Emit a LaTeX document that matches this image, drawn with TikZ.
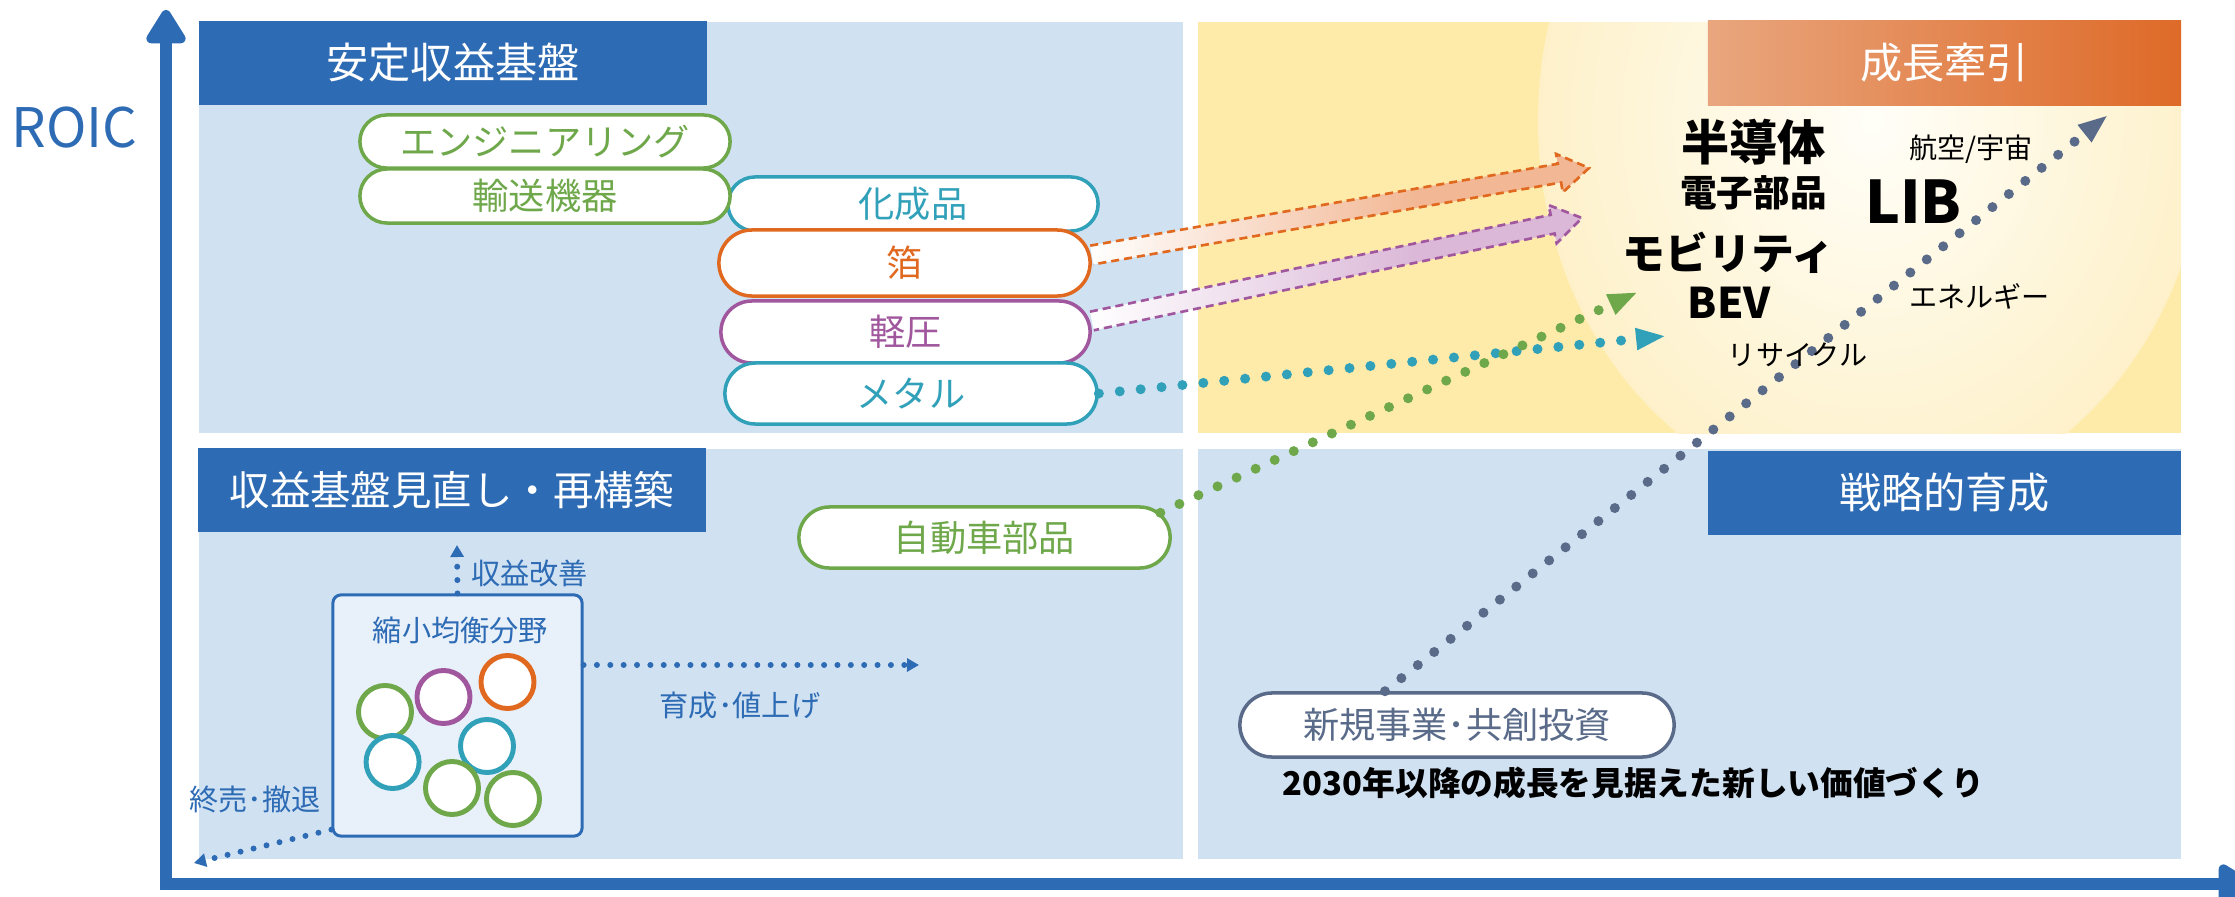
\documentclass[tikz,border=0pt]{standalone}
\usepackage{fontspec}
\setmainfont{Noto Sans CJK JP}
\usetikzlibrary{arrows.meta,calc,shapes.misc}

\definecolor{axblue}{HTML}{2D6BB4}
\definecolor{panelblue}{HTML}{D0E1F2}
\definecolor{panelyel}{HTML}{FEEBAA}
\definecolor{pgreen}{HTML}{6FA84A}
\definecolor{pteal}{HTML}{31A0B9}
\definecolor{porange}{HTML}{E0691F}
\definecolor{ppurple}{HTML}{A0579E}
\definecolor{pslate}{HTML}{5A6B8A}
\definecolor{peach}{HTML}{F2B794}
\definecolor{lilac}{HTML}{DBB8D8}
\definecolor{boxfill}{HTML}{E8F0FA}
\definecolor{otl}{HTML}{E9A67E}
\definecolor{otr}{HTML}{DE6A28}
\definecolor{glowin}{HTML}{FFFEF8}
\definecolor{glowout}{HTML}{FEF1CA}

\pgfdeclarehorizontalshading{oarrowshade}{100bp}{color(0bp)=(white); color(25bp)=(white); color(58bp)=(peach); color(100bp)=(peach)}
\pgfdeclarehorizontalshading{parrowshade}{100bp}{color(0bp)=(white); color(25bp)=(white); color(58bp)=(lilac); color(100bp)=(lilac)}

\newcommand{\blockarr}[3]{%
  \coordinate (#1B) at ($(#2)!0.3cm!(#1)$);
  \shade[shading=#3] ($(#1)!0.095cm!90:(#2)$) -- ($(#1B)!0.095cm!90:(#2)$) -- ($(#1B)!0.195cm!90:(#2)$) -- (#2) -- ($(#1B)!0.195cm!-90:(#2)$) -- ($(#1B)!0.095cm!-90:(#2)$) -- ($(#1)!0.095cm!-90:(#2)$) -- cycle;
}
\newcommand{\blockedge}[3]{%
  \draw[#3, dashedge, line join=miter] ($(#1)!0.095cm!90:(#2)$) -- ($(#1B)!0.095cm!90:(#2)$) -- ($(#1B)!0.195cm!90:(#2)$) -- (#2) -- ($(#1B)!0.195cm!-90:(#2)$) -- ($(#1B)!0.095cm!-90:(#2)$) -- ($(#1)!0.095cm!-90:(#2)$);
}

\tikzset{
  titlebox/.style={fill=axblue, text=white, font=\fontsize{12pt}{14pt}\selectfont, minimum width=5.08cm, minimum height=0.84cm, inner sep=0pt},
  pill/.style={rounded rectangle, draw, fill=white, line width=1pt, inner sep=0pt, font=\fontsize{10.3pt}{12pt}\selectfont},
  dotline/.style={line width=2.85pt, line cap=round, dash pattern=on 0pt off 5.97pt},
  smalldots/.style={axblue, line width=1.7pt, line cap=round, dash pattern=on 0pt off 3.8pt},
  dashedge/.style={line width=0.75pt, dash pattern=on 2.3pt off 1.4pt},
  ring/.style={circle, draw, fill=white, line width=1.4pt, minimum size=0.53cm, inner sep=0pt},
  bluelab/.style={inner sep=0pt, text=axblue, font=\fontsize{8.3pt}{10pt}\selectfont},
  blacklab/.style={inner sep=0pt, text=black},
  axisline/.style={axblue, line width=3.4pt, -{Triangle[length=0.38cm,width=0.44cm,round]}},
  bigtip/.style={-{Triangle[length=0.3cm,width=0.2cm]}},
  smalltip/.style={-{Triangle[length=0.12cm,width=0.13cm]}}
}

\begin{document}
\begin{tikzpicture}[x=0.01cm,y=-0.01cm]
\useasboundingbox (0,0) rectangle (2235,897);

% quadrant panels
\fill[panelblue] (199,22) rectangle (1183,433);
\fill[panelyel] (1198,22) rectangle (2181,433);
\fill[panelblue] (199,449) rectangle (1183,859);
\fill[panelblue] (1198,449) rectangle (2181,859);

% glow in growth quadrant
\begin{scope}
  \clip (1198,22) rectangle (2181,433);
  \shade[inner color=glowin, outer color=glowout] (1872,121) ellipse [x radius=334, y radius=384];
\end{scope}

% quadrant titles
\node[titlebox] (tStable) at (453,63) {安定収益基盤};
\node[titlebox, minimum width=4.73cm, left color=otl, right color=otr] (tGrowth) at (1944.5,63) {成長牽引};
\node[titlebox, font=\fontsize{11.5pt}{14pt}\selectfont] (tRebuild) at (452,490) {収益基盤見直し・再構築};
\node[titlebox, minimum width=4.73cm] (tStrat) at (1944.5,493) {戦略的育成};

% axes
\coordinate (yaxBottom) at (166,890);
\coordinate (yaxTop) at (166,10);
\coordinate (xaxLeft) at (160,884);
\coordinate (xaxRight) at (2252,884);
\draw[axisline] (yaxBottom) -- (yaxTop);
\draw[axisline] (xaxLeft) -- (xaxRight);
\node[inner sep=0pt, text=axblue, font=\fontsize{15.5pt}{18pt}\selectfont] (roic) at (74.5,127.5) {ROIC};

% business pills
\node[pill, draw=pteal, text=pteal, minimum width=3.70cm, minimum height=0.54cm] (kasei) at (913,204) {化成品};
\node[pill, draw=porange, text=porange, minimum width=3.71cm, minimum height=0.66cm] (haku) at (904.5,263) {箔};
\node[pill, draw=ppurple, text=ppurple, minimum width=3.69cm, minimum height=0.62cm] (keiatsu) at (905.5,332) {軽圧};
\node[pill, draw=pteal, text=pteal, minimum width=3.72cm, minimum height=0.61cm] (metal) at (911,393.5) {メタル};
\node[pill, draw=pgreen, text=pgreen, minimum width=3.70cm, minimum height=0.53cm] (eng) at (545,141.5) {エンジニアリング};
\node[pill, draw=pgreen, text=pgreen, minimum width=3.70cm, minimum height=0.54cm] (yuso) at (545,196) {輸送機器};
\node[pill, draw=pgreen, text=pgreen, minimum width=3.71cm, minimum height=0.61cm] (auto) at (984.5,537.5) {自動車部品};
\node[pill, draw=pslate, text=pslate, minimum width=4.34cm, minimum height=0.64cm] (newbiz) at (1457,725) {新規事業･共創投資};

% block arrows
\coordinate (hakuA) at ([yshift=0.08cm]haku.east);
\coordinate (hakuT) at (1589,168);
\coordinate (keiA) at ([yshift=0.11cm]keiatsu.east);
\coordinate (keiT) at (1582,218);
\blockarr{hakuA}{hakuT}{oarrowshade}
\blockedge{hakuA}{hakuT}{porange}
\blockarr{keiA}{keiT}{parrowshade}
\blockedge{keiA}{keiT}{ppurple}

% dotted connectors
\coordinate (tealTip) at (1666,336);
\coordinate (greenTip) at (1638,292);
\coordinate (slateTip) at (2108,115);
\draw[dotline, pteal, bigtip] (metal.east) -- (tealTip);
\draw[dotline, pgreen, bigtip] (auto.8) -- (greenTip);
\draw[dotline, pslate, bigtip] ([xshift=-0.72cm]newbiz.north) -- (slateTip);

% shrinking-balance box
\node[draw=axblue, fill=boxfill, line width=0.85pt, rounded corners=0.08cm, minimum width=2.49cm, minimum height=2.41cm, inner sep=0pt] (shrink) at (457.5,715.5) {};
\node[bluelab] (lShrink) at (460.5,630) {縮小均衡分野};
\node[ring, draw=pgreen] (c1) at (385,712) {};
\node[ring, draw=ppurple] (c2) at (443.5,697) {};
\node[ring, draw=porange] (c3) at (507.5,682) {};
\node[ring, draw=pteal] (c4) at (392.6,762) {};
\node[ring, draw=pteal] (c5) at (487,746) {};
\node[ring, draw=pgreen] (c6) at (452,788) {};
\node[ring, draw=pgreen] (c7) at (513,799) {};

\coordinate (upTip) at (457,545);
\coordinate (rightTip) at (919,665);
\coordinate (dlTip) at (194,863);
\draw[smalldots, smalltip] (shrink.north) -- (upTip);
\draw[smalldots, smalltip] ([yshift=0.505cm]shrink.east) -- (rightTip);
\draw[smalldots, smalltip] ([yshift=0.08cm]shrink.south west) -- (dlTip);
\node[bluelab] (lImprove) at (529.5,573.5) {収益改善};
\node[bluelab] (lExit) at (255,799.5) {終売･撤退};
\node[bluelab] (lGrow) at (740,705.5) {育成･値上げ};

% growth labels
\node[blacklab, font=\fontsize{13.7pt}{16pt}\bfseries] (semi) at (1753.5,142.5) {半導体};
\node[blacklab, font=\fontsize{10.4pt}{12pt}\bfseries] (elec) at (1753.5,192.5) {電子部品};
\node[blacklab, font=\fontsize{16.7pt}{19pt}\bfseries] (lib) at (1913.5,201.5) {LIB};
\node[blacklab, font=\fontsize{12.2pt}{14pt}\bfseries] (mob) at (1728.5,252.5) {モビリティ};
\node[blacklab, font=\fontsize{12pt}{14pt}\bfseries] (bev) at (1729.5,302.5) {BEV};
\node[blacklab, font=\fontsize{8pt}{10pt}\selectfont] (aero) at (1971,149.5) {航空/宇宙};
\node[blacklab, font=\fontsize{8pt}{10pt}\selectfont] (energy) at (1979.5,296.5) {エネルギー};
\node[blacklab, font=\fontsize{8pt}{10pt}\selectfont] (recyc) at (1797.5,354.5) {リサイクル};
\node[blacklab, font=\fontsize{9.3pt}{11pt}\bfseries] (future) at (1633.5,783) {2030年以降の成長を見据えた新しい価値づくり};

\end{tikzpicture}
\end{document}
